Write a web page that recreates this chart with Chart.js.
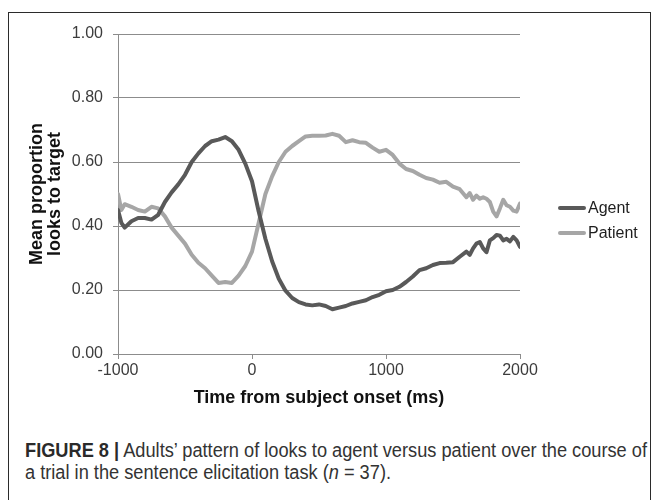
<!DOCTYPE html>
<html>
<head>
<meta charset="utf-8">
<script src="https://cdn.jsdelivr.net/npm/chart.js@4.4.0/dist/chart.umd.min.js"></script>
<style>
  html, body { margin: 0; padding: 0; width: 657px; height: 500px; overflow: hidden; background: #fff; }
  #frame { position: absolute; left: 8px; top: 12px; width: 641px; height: 520px; border: 1px solid #2b2b2b; border-bottom: none; }
  #c { position: absolute; left: 0; top: 0; }
  .leg { position: absolute; left: 558px; height: 24px; font: 16px "Liberation Sans", Arial, sans-serif; color: #1e1e1e; }
  .leg span.ln { position: absolute; left: 0; top: 10px; width: 28px; height: 4px; border-radius: 2px; }
  .leg span.tx { position: absolute; left: 30px; top: 3px; white-space: nowrap; }
  .cap { position: absolute; left: 25px; white-space: nowrap; line-height: 22px; font: 20px "Liberation Sans", Arial, sans-serif; color: #333; transform-origin: 0 50%; }
  .cap b { color: #2a2a2a; }
</style>
</head>
<body>
<div id="frame"></div>
<canvas id="c" width="657" height="420"></canvas>
<div class="leg" style="top:196px"><span class="ln" style="background:#595959"></span><span class="tx">Agent</span></div>
<div class="leg" style="top:221px"><span class="ln" style="background:#a6a6a6"></span><span class="tx">Patient</span></div>
<div class="cap" id="cap1" style="top:439px"><b>FIGURE 8 |</b> Adults’ pattern of looks to agent versus patient over the course of</div>
<div class="cap" id="cap2" style="top:461px">a trial in the sentence elicitation task (<i>n</i> = 37).</div>
<script>
// time bins (ms from subject onset)
const times = [
  -1000, -975, -950, -900, -850, -800, -750, -700, -650, -600, -550,
  -500, -450, -400, -350, -300, -250, -200, -150, -100, -50,
  0, 50, 100, 150, 200, 250, 300, 350, 400, 450,
  500, 550, 600, 650, 700, 750, 800, 850, 900, 950,
  1000, 1050, 1100, 1150, 1200, 1250, 1300, 1350, 1400, 1450,
  1500, 1550, 1600, 1625, 1650, 1675, 1700, 1725, 1750, 1775,
  1800, 1825, 1850, 1875, 1900, 1925, 1950, 1975, 2000
];
const agent = [
  0.45, 0.41, 0.395, 0.415, 0.425, 0.425, 0.42, 0.435, 0.475, 0.505, 0.53,
  0.56, 0.60, 0.627, 0.65, 0.665, 0.67, 0.678, 0.665, 0.638, 0.595,
  0.54, 0.445, 0.36, 0.29, 0.235, 0.198, 0.175, 0.162, 0.155, 0.152,
  0.155, 0.15, 0.14, 0.145, 0.15, 0.158, 0.163, 0.168, 0.178, 0.185,
  0.196, 0.2, 0.21, 0.225, 0.242, 0.262, 0.268, 0.278, 0.284, 0.285,
  0.287, 0.304, 0.32, 0.31, 0.33, 0.345, 0.35, 0.33, 0.318, 0.355,
  0.362, 0.372, 0.37, 0.355, 0.36, 0.352, 0.366, 0.355, 0.335
];
const patient = [
  0.50, 0.45, 0.468, 0.46, 0.45, 0.445, 0.46, 0.455, 0.43, 0.395, 0.37,
  0.345, 0.31, 0.285, 0.268, 0.245, 0.222, 0.225, 0.222, 0.245, 0.275,
  0.32, 0.41, 0.50, 0.555, 0.600, 0.632, 0.65, 0.665, 0.68, 0.682,
  0.682, 0.683, 0.688, 0.682, 0.662, 0.668, 0.662, 0.66, 0.645, 0.632,
  0.638, 0.622, 0.595, 0.578, 0.572, 0.56, 0.55, 0.545, 0.535, 0.538,
  0.523, 0.515, 0.49, 0.503, 0.482, 0.495, 0.485, 0.49, 0.485, 0.475,
  0.445, 0.43, 0.455, 0.482, 0.465, 0.46, 0.448, 0.445, 0.47
];
const xTicks = [-1000, 0, 1000, 2000];
const yTicks = [0, 0.2, 0.4, 0.6, 0.8, 1.0];

Chart.defaults.font.family = '"Liberation Sans", Arial, sans-serif';

const gridGray = '#8c8c8c';

new Chart(document.getElementById('c'), {
  type: 'line',
  data: {
    datasets: [
      {
        label: 'Agent',
        data: times.map((t, i) => ({ x: t, y: agent[i] })),
        borderColor: '#595959',
        backgroundColor: '#595959',
        borderWidth: 4,
        pointRadius: 0,
        borderJoinStyle: 'round',
        borderCapStyle: 'round'
      },
      {
        label: 'Patient',
        data: times.map((t, i) => ({ x: t, y: patient[i] })),
        borderColor: '#a6a6a6',
        backgroundColor: '#a6a6a6',
        borderWidth: 4,
        pointRadius: 0,
        borderJoinStyle: 'round',
        borderCapStyle: 'round'
      }
    ]
  },
  options: {
    responsive: false,
    animation: false,
    devicePixelRatio: 1,
    layout: { padding: { left: 0, top: 34, right: 137, bottom: 6 } },
    plugins: { legend: { display: false }, tooltip: { enabled: false } },
    scales: {
      x: {
        type: 'linear',
        min: -1000,
        max: 2000,
        afterBuildTicks: s => { s.ticks = xTicks.map(v => ({ value: v })); },
        afterFit: s => { s.height = 60; },
        grid: { drawOnChartArea: false, drawTicks: true, tickLength: 5, color: gridGray },
        border: { color: gridGray },
        ticks: { padding: 2, color: '#3c3c3c', font: { size: 16 }, maxRotation: 0, callback: v => String(v) },
        title: {
          display: true,
          text: 'Time from subject onset (ms)',
          color: '#111',
          font: { size: 18, weight: 'bold' },
          padding: { top: 0, bottom: 5 }
        }
      },
      y: {
        min: 0,
        max: 1,
        afterBuildTicks: s => { s.ticks = yTicks.map(v => ({ value: v })); },
        afterFit: s => { s.width = 118; },
        grid: { tickLength: 5, color: gridGray },
        border: { color: gridGray },
        ticks: { padding: 10, color: '#3c3c3c', font: { size: 16 }, callback: v => v.toFixed(2) },
        title: {
          display: true,
          text: ['Mean proportion', 'looks to target'],
          color: '#111',
          font: { size: 18, weight: 'bold', lineHeight: 1.0 },
          padding: { top: 28, bottom: 0 }
        }
      }
    }
  }
});

// caption font is a condensed face in the original; squeeze line 1 to its width
const cap1 = document.getElementById('cap1');
const cap2 = document.getElementById('cap2');
const k = 622 / cap1.scrollWidth;
cap1.style.transform = 'scaleX(' + k + ')';
cap2.style.transform = 'scaleX(' + k + ')';
</script>
</body>
</html>
